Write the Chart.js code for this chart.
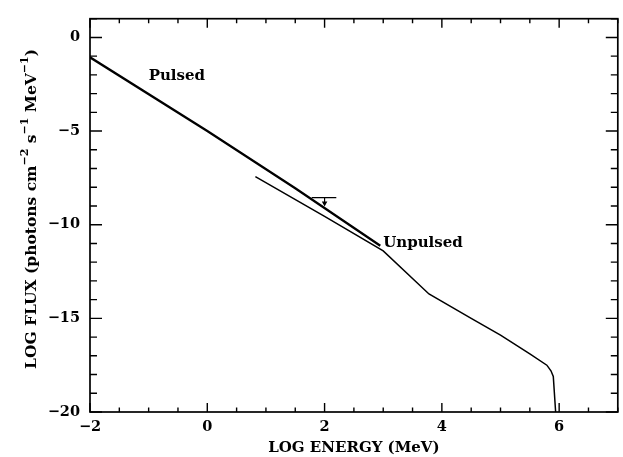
<!DOCTYPE html>
<html>
<head>
<meta charset="utf-8">
<script src="https://cdn.jsdelivr.net/npm/chart.js@4.4.1/dist/chart.umd.min.js"></script>
<style>
  html, body { margin: 0; padding: 0; background: #fff; }
  #wrap { width: 623px; height: 457px; }
</style>
</head>
<body>
<div id="wrap"><canvas id="spectrum" width="623" height="457"></canvas></div>
<script>
// log energy (MeV) vs log flux
const pulsedEnergy = [-2, 0, 1.5, 2.95];
const pulsedFlux = [-1.06, -5.0, -8.05, -11.12];

const unpulsedEnergy = [0.82, 2.0, 3.0, 3.78, 4.5, 5.0, 5.5, 5.79, 5.86, 5.9, 5.94];
const unpulsedFlux = [-7.43, -9.55, -11.4, -13.7, -15.0, -15.9, -16.9, -17.5, -17.8, -18.1, -20];

// upper limit bar near 100 MeV
const limitEnergy = [1.78, 2.2];
const limitFlux = [-8.55, -8.55];
const arrowEnergy = [2, 2];
const arrowFlux = [-8.55, -8.85];

const xTickValues = [-2, 0, 2, 4, 6];
const yTickValues = [-20, -15, -10, -5, 0];

const curveLabels = ['Pulsed', 'Unpulsed'];
const curveLabelX = [-1.0, 3.0];
const curveLabelY = [-2.29, -11.2];

const serif = "'DejaVu Serif', 'Liberation Serif', serif";

const toPoints = (xs, ys) => xs.map((x, i) => ({ x: x, y: ys[i] }));
const minus = v => String(v).replace('-', '\u2212');

// frame, inward ticks, curve labels and y title
const decorations = {
    id: 'decorations',
    afterDatasetsDraw(chart) {
        const { ctx, chartArea: a, scales: { x, y } } = chart;
        ctx.save();
        ctx.strokeStyle = '#000';
        ctx.lineWidth = 1.7;
        ctx.strokeRect(a.left, a.top, a.right - a.left, a.bottom - a.top);

        ctx.lineWidth = 1.4;
        ctx.beginPath();
        for (let v = -2; v <= 7.001; v += 0.5) {
            const px = x.getPixelForValue(v);
            const len = (Math.abs(v % 2) < 1e-6) ? 9 : 4.5;
            ctx.moveTo(px, a.bottom); ctx.lineTo(px, a.bottom - len);
            ctx.moveTo(px, a.top); ctx.lineTo(px, a.top + len);
        }
        for (let v = -20; v <= 1.001; v += 1) {
            const py = y.getPixelForValue(v);
            const len = (Math.abs(v % 5) < 1e-6) ? 12 : 7;
            ctx.moveTo(a.left, py); ctx.lineTo(a.left + len, py);
            ctx.moveTo(a.right, py); ctx.lineTo(a.right - len, py);
        }
        ctx.stroke();

        ctx.fillStyle = '#000';
        ctx.font = 'bold 15px ' + serif;
        ctx.textBaseline = 'alphabetic';
        ctx.textAlign = 'left';
        curveLabels.forEach((t, i) => {
            ctx.fillText(t, x.getPixelForValue(curveLabelX[i]), y.getPixelForValue(curveLabelY[i]));
        });

        // y axis title with real superscripts
        const parts = [
            ['LOG FLUX (photons cm', 0], ['\u22122', 1], [' s', 0], ['\u22121', 1],
            [' MeV', 0], ['\u22121', 1], [')', 0]
        ];
        const big = 'bold 15.5px ' + serif;
        const small = 'bold 11px ' + serif;
        let total = 0;
        parts.forEach(p => { ctx.font = p[1] ? small : big; total += ctx.measureText(p[0]).width; });
        ctx.translate(36, 209);
        ctx.rotate(-Math.PI / 2);
        let cx = -total / 2;
        parts.forEach(p => {
            ctx.font = p[1] ? small : big;
            ctx.fillText(p[0], cx, p[1] ? -8 : 0);
            cx += ctx.measureText(p[0]).width;
        });
        ctx.restore();
    }
};

const lineSet = (data, width) => ({
    data: data,
    borderColor: '#000',
    borderWidth: width,
    pointRadius: 0,
    showLine: true,
    fill: false,
    tension: 0
});

new Chart(document.getElementById('spectrum'), {
    type: 'scatter',
    data: {
        datasets: [
            lineSet(toPoints(pulsedEnergy, pulsedFlux), 2.3),
            lineSet(toPoints(unpulsedEnergy, unpulsedFlux), 1.5),
            lineSet(toPoints(limitEnergy, limitFlux), 1.2),
            {
                ...lineSet(toPoints(arrowEnergy, arrowFlux), 1.2),
                pointRadius: [0, 2],
                pointStyle: 'triangle',
                rotation: 180,
                pointBackgroundColor: '#000',
                pointBorderColor: '#000'
            }
        ]
    },
    options: {
        responsive: false,
        animation: false,
        layout: { padding: { top: 9, right: 1.5, left: 0, bottom: 0 } },
        plugins: { legend: { display: false }, tooltip: { enabled: false } },
        scales: {
            x: {
                type: 'linear',
                min: -2,
                max: 7,
                grid: { display: false, drawTicks: false },
                border: { display: false },
                afterBuildTicks: s => { s.ticks = xTickValues.map(v => ({ value: v })); },
                afterFit: s => { s.height = 45; },
                ticks: {
                    color: '#000',
                    padding: 7,
                    maxRotation: 0,
                    font: { family: serif, size: 14.5, weight: 'bold' },
                    callback: v => minus(v)
                },
                title: {
                    display: true,
                    text: 'LOG ENERGY (MeV)',
                    color: '#000',
                    padding: { top: 4, bottom: 0 },
                    font: { family: serif, size: 15, weight: 'bold' }
                }
            },
            y: {
                type: 'linear',
                min: -20,
                max: 1,
                grid: { display: false, drawTicks: false },
                border: { display: false },
                afterBuildTicks: s => { s.ticks = yTickValues.map(v => ({ value: v })); },
                afterFit: s => { s.width = 90; },
                ticks: {
                    color: '#000',
                    padding: 10,
                    font: { family: serif, size: 14.5, weight: 'bold' },
                    callback: v => minus(v)
                }
            }
        }
    },
    plugins: [decorations]
});
</script>
</body>
</html>
